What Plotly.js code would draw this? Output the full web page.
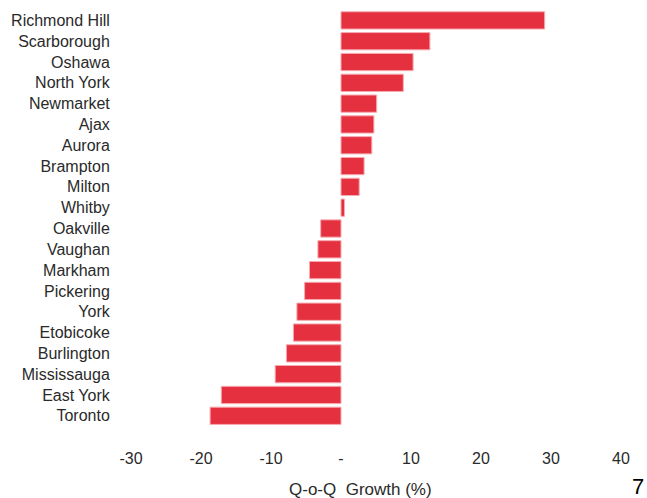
<!DOCTYPE html>
<html>
<head>
<meta charset="utf-8">
<script src="https://cdn.plot.ly/plotly-3.0.1.min.js"></script>
<style>
  html, body { margin: 0; padding: 0; background: #ffffff; }
  #chart { width: 647px; height: 498px; }
</style>
</head>
<body>
<div id="chart"></div>
<script>
// Quarter-over-quarter growth by area (%), listed top to bottom
const areas = [
  "Richmond Hill", "Scarborough", "Oshawa", "North York", "Newmarket",
  "Ajax", "Aurora", "Brampton", "Milton", "Whitby",
  "Oakville", "Vaughan", "Markham", "Pickering", "York",
  "Etobicoke", "Burlington", "Mississauga", "East York", "Toronto"
];
const growth = [
  29.1, 12.7, 10.3, 8.9, 5.1,
  4.7, 4.4, 3.3, 2.6, 0.5,
  -2.9, -3.3, -4.5, -5.2, -6.3,
  -6.8, -7.8, -9.4, -17.1, -18.7
];
const xTickVals = [-30, -20, -10, 0, 10, 20, 30, 40];
const xTickText = ["-30", "-20", "-10", "-", "10", "20", "30", "40"];

const font = "Liberation Sans, Arial, sans-serif";
const textColor = "#2a2a2a";

const trace = {
  type: "bar",
  orientation: "h",
  x: growth,
  y: areas,
  marker: {
    color: "#e4303f",
    line: { color: "#f7aab0", width: 1 }
  },
  hoverinfo: "x+y"
};

const layout = {
  width: 647,
  height: 498,
  margin: { l: 131, r: 26, t: 10, b: 51 },
  paper_bgcolor: "#ffffff",
  plot_bgcolor: "#ffffff",
  showlegend: false,
  bargap: 0.17,
  font: { family: font, size: 16, color: textColor },
  xaxis: {
    range: [-30, 40],
    tickvals: xTickVals,
    ticktext: xTickText,
    showgrid: false,
    zeroline: false,
    showline: false,
    ticks: "",
    tickfont: { family: font, size: 16, color: textColor },
    fixedrange: true
  },
  yaxis: {
    type: "category",
    categoryorder: "array",
    categoryarray: areas,
    range: [20.5, -0.5],
    showgrid: false,
    zeroline: false,
    showline: false,
    ticks: "outside",
    ticklen: 17,
    tickcolor: "rgba(0,0,0,0)",
    tickfont: { family: font, size: 16, color: textColor },
    fixedrange: true
  },
  annotations: [
    {
      text: "Q-o-Q&nbsp;&nbsp;Growth (%)",
      xref: "paper", yref: "paper",
      x: 0.469, y: 0,
      yshift: -42,
      xanchor: "center", yanchor: "middle",
      showarrow: false,
      font: { family: font, size: 17, color: textColor }
    },
    {
      text: "7",
      xref: "paper", yref: "paper",
      x: 1.0, y: 0,
      xshift: 17, yshift: -39,
      xanchor: "center", yanchor: "middle",
      showarrow: false,
      font: { family: font, size: 22, color: "#000000" }
    }
  ]
};

Plotly.newPlot("chart", [trace], layout, { displayModeBar: false, staticPlot: true });
</script>
</body>
</html>
